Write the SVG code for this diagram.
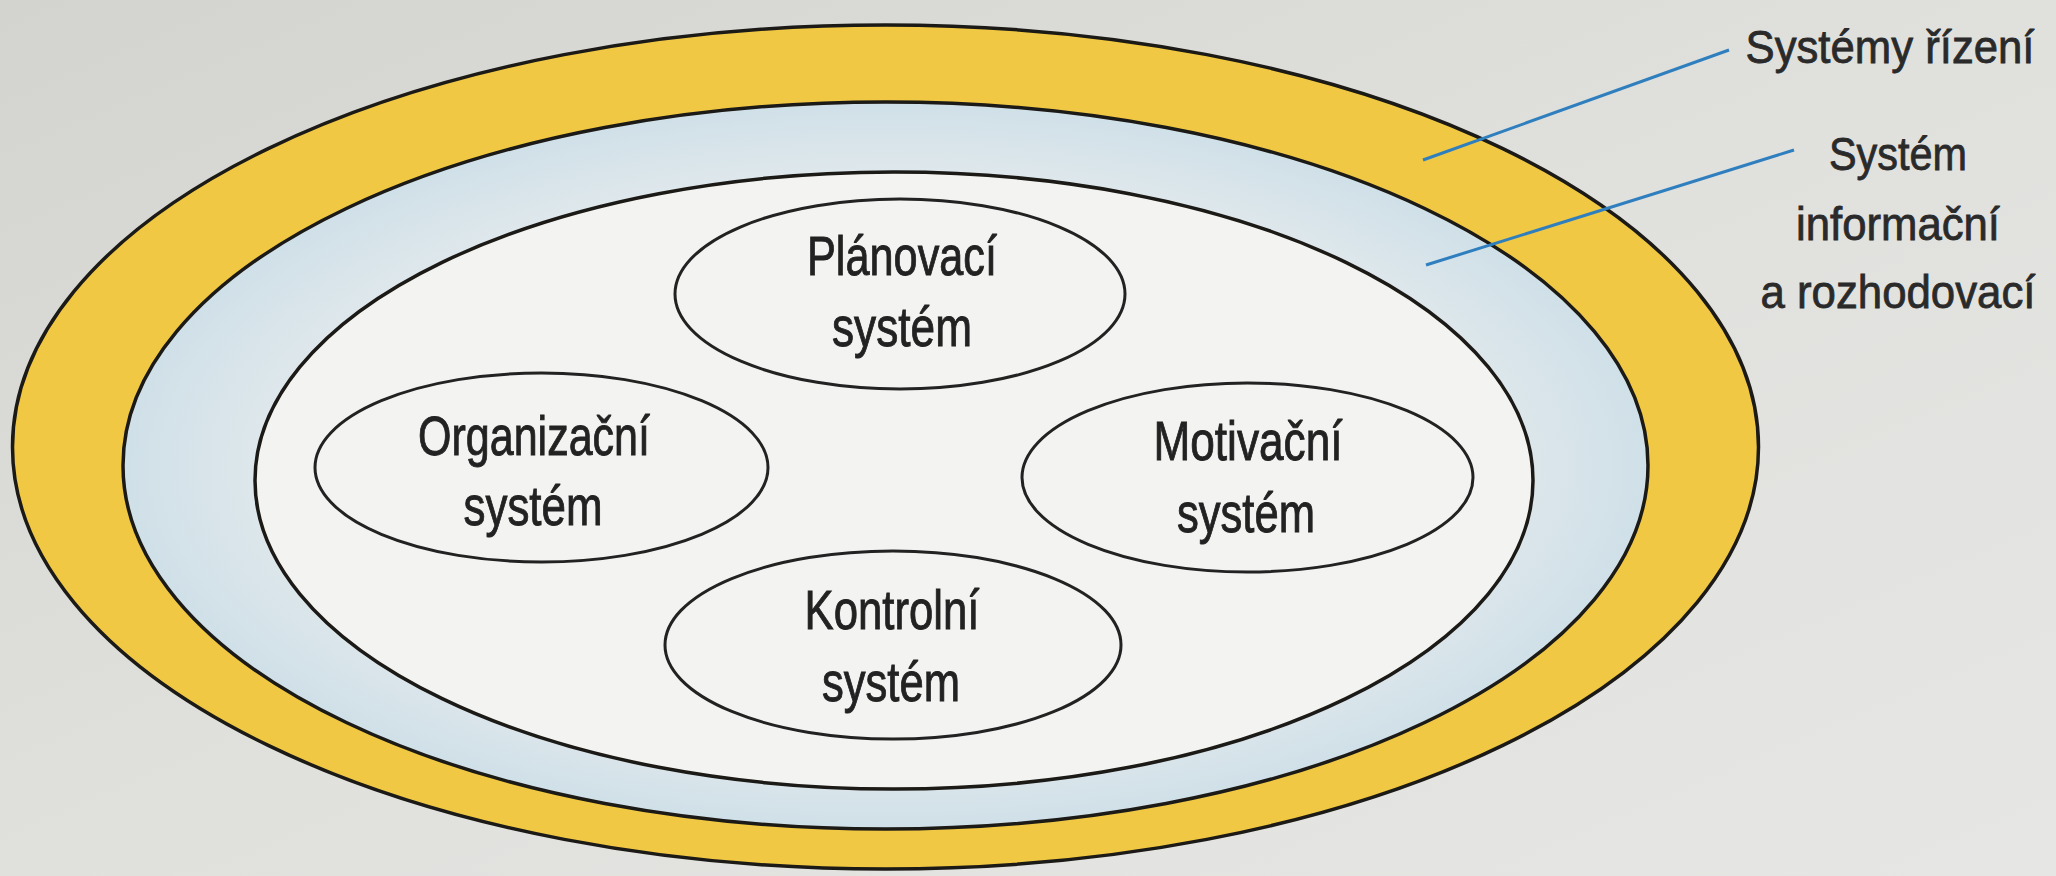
<svg xmlns="http://www.w3.org/2000/svg" width="2056" height="876" viewBox="0 0 2056 876">
  <defs>
    <linearGradient id="bg" x1="0" y1="0" x2="1" y2="1">
      <stop offset="0" stop-color="#d3d4cf"/>
      <stop offset="0.5" stop-color="#e0e0dd"/>
      <stop offset="1" stop-color="#e6e6e4"/>
    </linearGradient>
    <radialGradient id="blueband" cx="0.5" cy="0.5" r="0.5">
      <stop offset="0.8" stop-color="#dfe8ec"/>
      <stop offset="1" stop-color="#d0e0e8"/>
    </radialGradient>
  </defs>
  <style>
    .ring { stroke: #1c1a16; stroke-width: 3.5; }
    .yellow { fill: #f0c844; }
    .blue { fill: url(#blueband); }
    .white { fill: #f3f3f1; }
    .sub { fill: #f3f3f1; stroke: #222; stroke-width: 3; }
    .t { font-family: "Liberation Sans Narrow", "Liberation Sans", Arial, sans-serif; font-size: 56px; fill: #222; stroke: #222; stroke-width: 0.9; text-anchor: middle; }
    .lbl { font-family: "Liberation Sans Narrow", "Liberation Sans", Arial, sans-serif; font-size: 47px; fill: #2a2a2a; stroke: #2a2a2a; stroke-width: 0.8; text-anchor: middle; }
    .lead { stroke: #2f7fbf; stroke-width: 3; fill: none; }
  </style>
  <rect width="2056" height="876" fill="url(#bg)"/>

  <g id="systemy-rizeni">
    <ellipse class="ring yellow" cx="885.5" cy="447" rx="873" ry="422"/>
  </g>
  <g id="system-informacni">
    <ellipse class="ring blue" cx="885.5" cy="465.5" rx="762.5" ry="363.5"/>
  </g>
  <g id="inner">
    <ellipse class="ring white" cx="894" cy="480.5" rx="639" ry="308.5"/>
  </g>

  <g id="planovaci">
    <ellipse class="sub" cx="900" cy="294" rx="225" ry="95"/>
    <text class="t" x="902" y="275" textLength="190" lengthAdjust="spacingAndGlyphs">Plánovací</text>
    <text class="t" x="902" y="346" textLength="140" lengthAdjust="spacingAndGlyphs">systém</text>
  </g>
  <g id="organizacni">
    <ellipse class="sub" cx="541.5" cy="467.5" rx="226.5" ry="94.5"/>
    <text class="t" x="534" y="455" textLength="232" lengthAdjust="spacingAndGlyphs">Organizační</text>
    <text class="t" x="533" y="525" textLength="139" lengthAdjust="spacingAndGlyphs">systém</text>
  </g>
  <g id="motivacni">
    <ellipse class="sub" cx="1247.5" cy="477.5" rx="225.5" ry="94.5"/>
    <text class="t" x="1248" y="460" textLength="189" lengthAdjust="spacingAndGlyphs">Motivační</text>
    <text class="t" x="1246" y="532" textLength="138" lengthAdjust="spacingAndGlyphs">systém</text>
  </g>
  <g id="kontrolni">
    <ellipse class="sub" cx="893" cy="645" rx="228" ry="94"/>
    <text class="t" x="892" y="629" textLength="175" lengthAdjust="spacingAndGlyphs">Kontrolní</text>
    <text class="t" x="891" y="701" textLength="138" lengthAdjust="spacingAndGlyphs">systém</text>
  </g>

  <g id="label-systemy-rizeni">
    <text class="lbl" x="1890" y="63" textLength="289" lengthAdjust="spacingAndGlyphs">Systémy řízení</text>
  </g>
  <g id="label-system-informacni">
    <text class="lbl" x="1898" y="170" textLength="138" lengthAdjust="spacingAndGlyphs">Systém</text>
    <text class="lbl" x="1898" y="240" textLength="204" lengthAdjust="spacingAndGlyphs">informační</text>
    <text class="lbl" x="1898" y="308" textLength="275" lengthAdjust="spacingAndGlyphs">a rozhodovací</text>
  </g>

  <g id="connectors">
    <line class="lead" x1="1423" y1="160" x2="1729" y2="50"/>
    <line class="lead" x1="1426" y1="265" x2="1794" y2="150"/>
  </g>
</svg>
